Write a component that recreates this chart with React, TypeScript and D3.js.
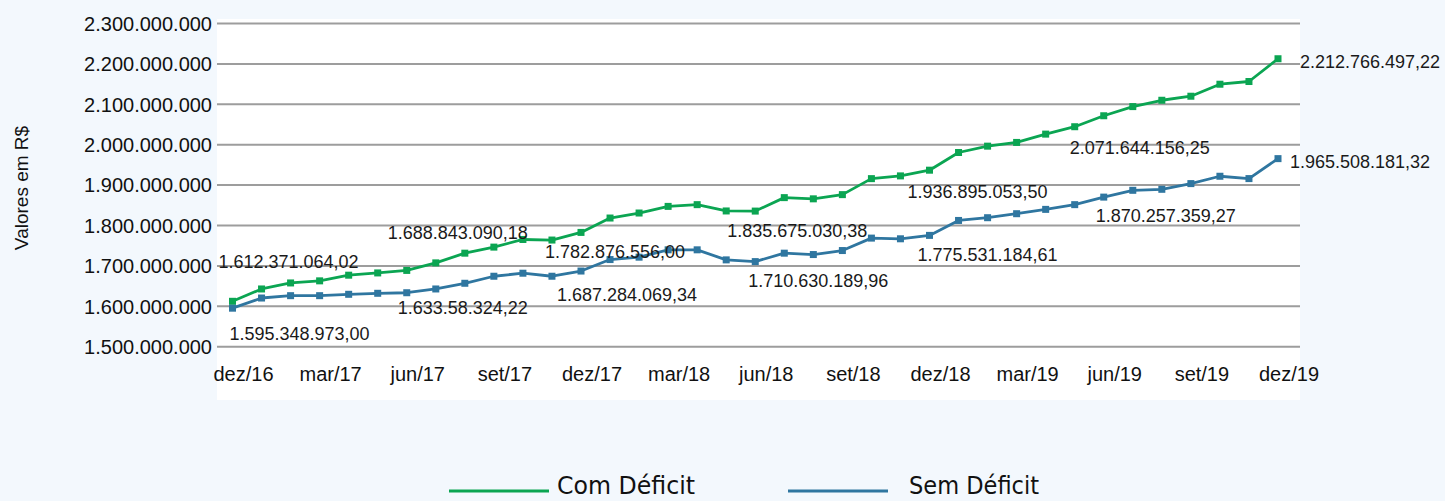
import React from "react";
import * as d3 from "d3";

const months = [
  "dez/16","jan/17","fev/17","mar/17","abr/17","mai/17","jun/17","jul/17","ago/17","set/17","out/17","nov/17",
  "dez/17","jan/18","fev/18","mar/18","abr/18","mai/18","jun/18","jul/18","ago/18","set/18","out/18","nov/18",
  "dez/18","jan/19","fev/19","mar/19","abr/19","mai/19","jun/19","jul/19","ago/19","set/19","out/19","nov/19","dez/19",
];

// values in millions of R$
const comDeficit = [
  1612.37, 1642.9, 1657.8, 1663, 1677, 1682.6, 1688.84, 1707.5, 1731.5, 1746.5, 1765.4, 1764,
  1782.88, 1818.5, 1830.9, 1847.3, 1851.6, 1836, 1835.68, 1869, 1866, 1876.4, 1916, 1922.8,
  1936.9, 1980.7, 1996.4, 2005.6, 2026.2, 2044.5, 2071.64, 2094.3, 2110, 2120, 2149.7, 2156.4, 2212.77,
];
const semDeficit = [
  1595.35, 1620.5, 1626.3, 1626.3, 1629.7, 1632.2, 1633.58, 1642.9, 1657, 1674.4, 1681.9, 1674.4,
  1687.28, 1715.7, 1721.6, 1739.8, 1739.8, 1714.9, 1710.63, 1731.5, 1728.1, 1738, 1768.8, 1767.1,
  1775.53, 1812.5, 1819.3, 1829.2, 1839.9, 1851.6, 1870.26, 1887.1, 1889.6, 1903.7, 1921.9, 1916.1, 1965.51,
];

const yTicks = [1500e6, 1600e6, 1700e6, 1800e6, 1900e6, 2000e6, 2100e6, 2200e6, 2300e6];
const xTickLabels = ["dez/16","mar/17","jun/17","set/17","dez/17","mar/18","jun/18","set/18","dez/18","mar/19","jun/19","set/19","dez/19"];

const comLabelIdx = [0, 6, 12, 18, 24, 30, 36];
const comLabelText = ["1.612.371.064,02","1.688.843.090,18","1.782.876.556,00","1.835.675.030,38","1.936.895.053,50","2.071.644.156,25","2.212.766.497,22"];
const semLabelIdx = [0, 6, 12, 18, 24, 30, 36];
const semLabelText = ["1.595.348.973,00","1.633.58.324,22","1.687.284.069,34","1.710.630.189,96","1.775.531.184,61","1.870.257.359,27","1.965.508.181,32"];

// label placement offsets (layout)
const comLabelOff = [[-14, -40], [-19, -38], [-36, 19], [-28, 19], [-22, 21], [-34, 32], [22, 3]];
const semLabelOff = [[-3, 25], [-9, 15], [-24, 23], [-7, 19], [-12, 19], [-8, 18], [12, 3]];

const seriesNames = ["Com Déficit", "Sem Déficit"];
const GREEN = "#0ba552";
const BLUE = "#2f76a0";

const W = 1445, H = 501;

export default function App() {
  const x = d3.scalePoint<string>().domain(months).range([232.5, 1278]);
  const y = d3.scaleLinear().domain([1500e6, 2300e6]).range([346.7, 23.5]);
  const loc = d3.formatLocale({ thousands: ".", decimal: ",", grouping: [3], currency: ["R$", ""] });
  const fmt = loc.format(",d");

  const line = d3.line<number>()
    .x((_, i) => x(months[i]) as number)
    .y((v) => y(v * 1e6));

  const series = [
    { name: seriesNames[0], data: comDeficit, color: GREEN, lIdx: comLabelIdx, lText: comLabelText, lOff: comLabelOff },
    { name: seriesNames[1], data: semDeficit, color: BLUE, lIdx: semLabelIdx, lText: semLabelText, lOff: semLabelOff },
  ];

  const font = "'Liberation Sans', Arial, sans-serif";
  const ms = 7;

  return (
    <div style={{ position: "fixed", left: 0, top: 0 }}>
      <svg width={W} height={H} style={{ display: "block" }}>
        <rect x={0} y={0} width={W} height={H} fill="#f3f8fd" />
        <rect x={217} y={19} width={1300 - 217} height={381} fill="#ffffff" />
        {yTicks.map((t) => (
          <g key={t}>
            <line x1={217} x2={1300} y1={y(t)} y2={y(t)} stroke="#9d9d9d" strokeWidth={2} />
            <text x={212} y={y(t)} dy="0.36em" textAnchor="end" fontFamily={font} fontSize={20} fill="#111">
              {fmt(t)}
            </text>
          </g>
        ))}
        <text
          transform="translate(28,188) rotate(-90)"
          textAnchor="middle"
          fontFamily={font}
          fontSize={19}
          fill="#111"
        >
          Valores em R$
        </text>
        {xTickLabels.map((m) => (
          <text key={m} x={(x(m) as number) + 11} y={381} textAnchor="middle" fontFamily={font} fontSize={20} fill="#111">
            {m}
          </text>
        ))}
        {series.map((s) => (
          <g key={s.name}>
            <path d={line(s.data) || ""} fill="none" stroke={s.color} strokeWidth={2.8} strokeLinejoin="round" />
            {s.data.map((v, i) => (
              <rect
                key={i}
                x={(x(months[i]) as number) - ms / 2}
                y={y(v * 1e6) - ms / 2}
                width={ms}
                height={ms}
                fill={s.color}
              />
            ))}
          </g>
        ))}
        {series.map((s) =>
          s.lIdx.map((idx, k) => (
            <text
              key={s.name + k}
              x={(x(months[idx]) as number) + s.lOff[k][0]}
              y={y(s.data[idx] * 1e6) + s.lOff[k][1]}
              dy="0.36em"
              fontFamily={font}
              fontSize={18}
              fill="#1a1a1a"
            >
              {s.lText[k]}
            </text>
          ))
        )}
        {/* legend */}
        {series.map((s, i) => {
          const lx = i === 0 ? 449 : 788;
          const tx = i === 0 ? 557 : 909;
          const tw = i === 0 ? 138 : 130;
          return (
            <g key={"leg" + i}>
              <line x1={lx} x2={lx + 100} y1={491} y2={491} stroke={s.color} strokeWidth={3} />
              <text
                x={tx}
                y={494}
                fontFamily="'Liberation Sans Narrow', 'DejaVu Sans Condensed', sans-serif"
                fontSize={24}
                textLength={tw}
                lengthAdjust="spacingAndGlyphs"
                fill="#111"
              >
                {s.name}
              </text>
            </g>
          );
        })}
      </svg>
    </div>
  );
}
